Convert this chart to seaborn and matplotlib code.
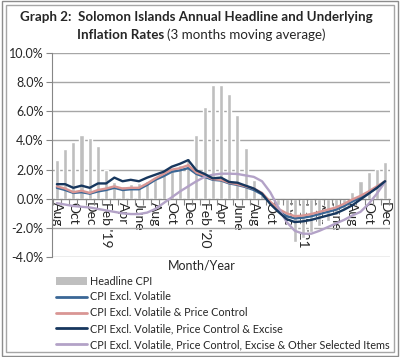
import numpy as np
import pandas as pd
import seaborn as sns
import matplotlib.pyplot as plt
from matplotlib.patches import Rectangle, Patch
from matplotlib.lines import Line2D
from matplotlib.ticker import FixedLocator

sns.set_style('white')
plt.rcParams['font.family'] = ['Lato', 'DejaVu Sans']

# months Aug 2018 .. Dec 2021
month_idx = list(range(41))
tick_labels = ['Aug', 'Oct', 'Dec', "Feb '19", 'Apr', 'June', 'Aug', 'Oct', 'Dec',
               "Feb '20", 'Apr', 'June', 'Aug', 'Oct', 'Dec',
               "Feb '21", 'Apr', 'June', 'Aug', 'Oct', 'Dec']

headline = [2.65, 3.4, 3.9, 4.4, 4.2, 3.65, 2.0, 1.15, 0.9, 1.0, 1.1, 1.2, 1.4, 1.7,
            1.9, 2.3, 2.8, 4.4, 6.3, 7.8, 7.8, 7.2, 5.75, 3.45, 1.3, 0.35, -0.1,
            -0.4, -1.3, -3.0, -2.7, -2.3, -1.9, -1.5, -1.1, -0.7, 0.45, 1.25, 1.85,
            2.05, 2.55]
excl_volatile = [0.75, 0.6, 0.4, 0.45, 0.35, 0.5, 0.6, 0.75, 0.6, 0.65, 0.65, 0.95,
                 1.3, 1.55, 1.85, 1.95, 2.1, 1.7, 1.5, 1.3, 1.25, 1.05, 0.95, 0.8,
                 0.6, 0.3, -0.3, -0.85, -1.2, -1.35, -1.3, -1.2, -1.05, -0.9, -0.75,
                 -0.5, -0.2, 0.1, 0.4, 0.75, 1.2]
excl_price_ctrl = [0.85, 0.7, 0.45, 0.55, 0.4, 0.6, 0.7, 0.85, 0.7, 0.75, 0.75, 1.05,
                   1.4, 1.7, 2.0, 2.1, 2.3, 1.8, 1.6, 1.35, 1.3, 1.1, 1.0, 0.85,
                   0.7, 0.4, -0.2, -0.7, -1.0, -1.2, -1.15, -1.05, -0.9, -0.75, -0.6,
                   -0.35, -0.05, 0.2, 0.5, 0.85, 1.2]
excl_excise = [1.0, 1.0, 0.75, 0.9, 0.75, 1.05, 1.05, 1.45, 1.2, 1.3, 1.2, 1.45,
               1.65, 1.85, 2.2, 2.4, 2.65, 1.95, 1.7, 1.4, 1.45, 1.15, 1.1, 0.9,
               0.7, 0.35, -0.35, -0.9, -1.4, -1.6, -1.55, -1.45, -1.3, -1.15, -1.0,
               -0.75, -0.45, -0.05, 0.35, 0.75, 1.2]
excl_other = [-0.3, -0.4, -0.5, -0.55, -0.6, -0.7, -0.8, -0.9, -1.0, -1.05, -1.05,
              -0.95, -0.7, -0.3, 0.1, 0.5, 0.85, 1.2, 1.5, 1.65, 1.72, 1.72, 1.7,
              1.6, 1.5, 1.2, 0.45, -0.6, -1.6, -2.2, -2.4, -2.4, -2.2, -1.95, -1.7,
              -1.45, -1.15, -0.9, -0.35, 0.35, 1.15]

names = ['Headline CPI', 'CPI Excl. Volatile', 'CPI Excl. Volatile & Price Control',
         'CPI Excl. Volatile, Price Control & Excise',
         'CPI Excl. Volatile, Price Control, Excise & Other Selected Items']
colors = ['#BFBFBF', '#3A6796', '#D99694', '#17375E', '#B3A2C7']

fig = plt.figure(figsize=(4, 3.57), dpi=100)
ax = fig.add_axes([0.13, 0.28, 0.845, 0.5715])

sns.barplot(x=month_idx, y=headline, color=colors[0], width=0.5, ax=ax,
            saturation=1, zorder=2)

line_data = [excl_volatile, excl_price_ctrl, excl_other, excl_excise]
line_cols = [colors[1], colors[2], colors[4], colors[3]]
for vals, c in zip(line_data, line_cols):
    sns.lineplot(x=month_idx, y=vals, color=c, linewidth=1.7, ax=ax, zorder=3)

ax.set_ylim(-4, 10)
ax.set_xlim(-0.6, 40.6)
ax.set_yticks(np.arange(-4, 10.1, 2))
ax.set_yticklabels([f'{v:.1f}%' for v in np.arange(-4, 10.1, 2)], fontsize=9)
ax.yaxis.grid(True, color='#A6A6A6', linewidth=1)
ax.set_axisbelow(True)

ax.set_xticks(range(0, 41, 2))
ax.set_xticklabels(tick_labels, fontsize=9)
ax.xaxis.set_minor_locator(FixedLocator(np.arange(-0.5, 41, 1)))
ax.tick_params(axis='x', which='major', length=0, pad=2, labelrotation=270)
ax.tick_params(axis='x', which='minor', length=4, color='#868686', width=0.8,
               direction='out', bottom=True)
ax.tick_params(axis='y', length=4, color='#868686', width=0.8, left=True, pad=2)
for t in ax.get_xticklabels():
    t.set_rotation(270)
    t.set_va('top')
    t.set_ha('center')
ax.spines['bottom'].set_position(('data', 0))
ax.spines['bottom'].set_color('#868686')
ax.spines['left'].set_color('#868686')
ax.spines['top'].set_visible(False)
ax.spines['right'].set_visible(False)
ax.set_xlabel('')
ax.set_ylabel('')

# title
fig.text(0.49, 0.952, 'Graph 2:  Solomon Islands Annual Headline and Underlying',
         ha='center', va='center', fontsize=9.6, fontweight='bold')
fig.text(0.41, 0.902, 'Inflation Rates', ha='right', va='center', fontsize=9.6,
         fontweight='bold')
fig.text(0.417, 0.902, '(3 months moving average)', ha='left', va='center',
         fontsize=9.6)
fig.text(0.505, 0.255, 'Month/Year', ha='center', va='center', fontsize=9)

handles = [Patch(facecolor=colors[0], edgecolor='none')] + \
          [Line2D([], [], color=c, linewidth=2) for c in colors[1:]]
fig.legend(handles, names, loc='upper left', bbox_to_anchor=(0.14, 0.228),
           frameon=False, fontsize=7.8, handlelength=2.9, handleheight=0.7,
           handletextpad=0.2, labelspacing=0.45, borderpad=0, borderaxespad=0)

# double frame round the figure
fig.patches.append(Rectangle((0.004, 0.004), 0.992, 0.992, transform=fig.transFigure,
                             fill=False, edgecolor='#8C8C8C', linewidth=1))
fig.patches.append(Rectangle((0.014, 0.014), 0.972, 0.972, transform=fig.transFigure,
                             fill=False, edgecolor='#A6A6A6', linewidth=1))

fig.savefig('out.png', dpi=100)
